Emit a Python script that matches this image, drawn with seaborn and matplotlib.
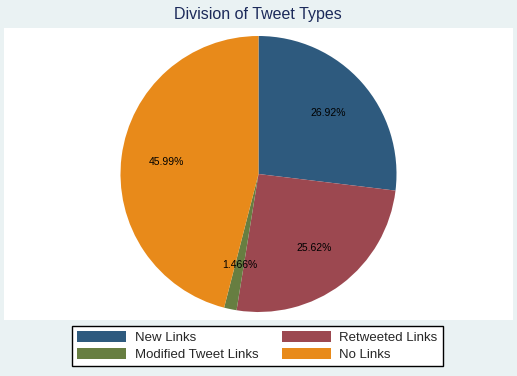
import matplotlib
matplotlib.use("Agg")
import matplotlib.pyplot as plt
import seaborn as sns

# data
categories = ["New Links", "Retweeted Links", "Modified Tweet Links", "No Links"]
shares = [26.92, 25.62, 1.466, 45.99]
pct_labels = ["26.92%", "25.62%", "1.466%", "45.99%"]
colors = ["#2E5A7E", "#9C4850", "#677E41", "#E88A1A"]

sns.set_theme(style="white")
plt.rcParams["font.family"] = ["Liberation Sans", "DejaVu Sans"]

fig = plt.figure(figsize=(5.17, 3.76), dpi=100)
fig.patch.set_facecolor("#EAF2F3")

W, H = 517, 376
# white plot region (pixels): x 4..513, y 28..320
ax = fig.add_axes([4 / W, 1 - 320 / H, 509 / W, 292 / H])

wedges, texts, autotexts = ax.pie(
    shares, colors=colors, startangle=90, counterclock=False,
    autopct="%1.2f%%", pctdistance=0.67,
    wedgeprops=dict(linewidth=0),
    textprops=dict(fontsize=7.5, color="black"),
)
for t, lab in zip(autotexts, pct_labels):
    t.set_text(lab)

# pie() switches the frame off; bring back the white plot area
ax.set_frame_on(True)
ax.set_facecolor("white")
for s in ax.spines.values():
    s.set_visible(False)

r_px = 138.0
ax.set_aspect("equal")
ax.set_xlim(-254.5 / r_px, 254.5 / r_px)
ax.set_ylim(-146 / r_px, 146 / r_px)
ax.set_xticks([])
ax.set_yticks([])

fig.text(0.499, 1 - 15 / H, "Division of Tweet Types", ha="center", va="center",
         fontsize=11.5, color="#1C2A5A")

# legend fills row by row in the reference: reorder for column-major filling
order = [0, 2, 1, 3]
leg = fig.legend([wedges[i] for i in order], [categories[i] for i in order],
                 ncol=2, loc="center",
                 bbox_to_anchor=(257.5 / W, 1 - 345.9 / H),
                 fontsize=9.5, frameon=True, fancybox=False, framealpha=1,
                 handlelength=3.7, handleheight=0.9, handletextpad=0.65,
                 columnspacing=1.8, labelspacing=0.3, borderpad=0.4,
                 borderaxespad=0)
leg.get_frame().set_edgecolor("black")
leg.get_frame().set_linewidth(1.0)
leg.get_frame().set_facecolor("white")

fig.savefig("out.png", dpi=100, facecolor=fig.get_facecolor())
